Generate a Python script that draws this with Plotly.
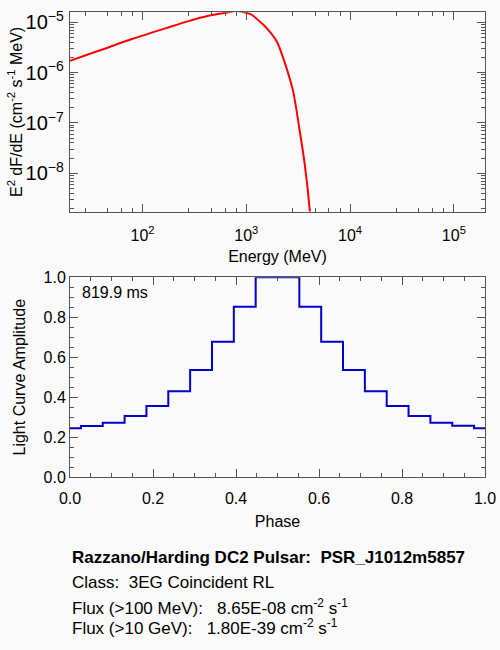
import plotly.graph_objects as go

# spectrum (MeV, E^2 dF/dE)
energy = [20, 37.7, 79, 166, 278, 432, 627, 800, 1000, 1135, 1416, 1580,
          1960, 2445, 2830, 3280, 3665, 4090, 4500]
e2dfde = [1.73e-6, 2.72e-6, 4.66e-6, 7.60e-6, 1.06e-5, 1.35e-5, 1.55e-5,
          1.68e-5, 1.55e-5, 1.40e-5, 9.5e-6, 7.6e-6,
          4.2e-6, 1.22e-6, 4.2e-7, 6.7e-8, 1.45e-8, 1.8e-9, 1.0e-10]

# light curve, 20 phase points
phase = [k / 19 for k in range(20)]
amplitude = [0.245, 0.257, 0.273, 0.307, 0.357, 0.430, 0.537, 0.678, 0.853, 1.0,
             1.0, 0.853, 0.678, 0.537, 0.430, 0.357, 0.307, 0.273, 0.258, 0.245]

energy_ticks = [1e2, 1e3, 1e4, 1e5]
energy_ticktext = ["10<sup>2</sup>", "10<sup>3</sup>", "10<sup>4</sup>", "10<sup>5</sup>"]

period_label = "819.9 ms"
info_lines = [
    "<b>Razzano/Harding DC2 Pulsar:\u00a0 PSR_J1012m5857</b>",
    "Class:\u00a0 3EG Coincident RL",
    "Flux (>100 MeV):\u00a0\u00a0 8.65E-08 cm<sup>-2</sup> s<sup>-1</sup>",
    "Flux (>10 GeV):\u00a0\u00a0 1.80E-39 cm<sup>-2</sup> s<sup>-1</sup>",
]
info_y = [557, 582, 607, 627]

W, H = 500, 650
bg = "#fafafa"
axcol = "#555555"
font = "Liberation Sans, Arial, sans-serif"


def py(px):
    return (H - px) / H


fig = go.Figure()

fig.add_trace(go.Scatter(
    x=energy, y=e2dfde, mode="lines",
    line=dict(color="rgb(255,0,0)", width=2, shape="spline", smoothing=0.8),
    xaxis="x", yaxis="y", showlegend=False,
))

fig.add_trace(go.Scatter(
    x=phase, y=amplitude, mode="lines",
    line=dict(color="rgb(0,0,204)", width=2, shape="hvh"),
    xaxis="x2", yaxis="y2", showlegend=False,
))

common = dict(
    showline=True, linecolor=axcol, linewidth=1, mirror="allticks",
    ticks="inside", tickcolor=axcol, ticklen=8, showgrid=False, zeroline=False,
    tickfont=dict(size=16, color="black"), automargin=False,
)

# odd minor-tick spacing of the original log x axis
xminor = [m * 10 ** d for d in range(1, 6) for m in (2.8, 4.6, 6.25, 8.0)]

fig.update_layout(
    width=W, height=H, autosize=False,
    margin=dict(l=0, r=0, t=0, b=0),
    paper_bgcolor=bg, plot_bgcolor=bg,
    font=dict(family=font, size=16, color="black"),
    xaxis=dict(
        common, type="log", domain=[70 / W, 485 / W],
        range=[1.301, 5.30], tickmode="array",
        tickvals=energy_ticks, ticktext=energy_ticktext,
        ticklabelstandoff=9,
        minor=dict(tickvals=xminor, ticks="inside", ticklen=4, tickcolor=axcol),
        anchor="y",
        title=dict(text="Energy (MeV)", font=dict(size=16), standoff=8),
    ),
    yaxis=dict(
        common, type="log", domain=[py(211.5), py(12.3)],
        range=[-8.76, -4.80], dtick=1, exponentformat="power",
        ticklabelstandoff=2,
        minor=dict(dtick="D1", ticks="inside", ticklen=4, tickcolor=axcol),
        anchor="x",
    ),
    xaxis2=dict(
        common, domain=[70 / W, 485 / W], range=[0, 1], dtick=0.2,
        tickformat=".1f", ticklabelstandoff=6,
        minor=dict(dtick=0.05, ticks="inside", ticklen=4, tickcolor=axcol),
        anchor="y2",
        title=dict(text="Phase", font=dict(size=16), standoff=10),
    ),
    yaxis2=dict(
        common, domain=[py(477.3), py(277.3)], range=[0, 1.0], dtick=0.2,
        tickformat=".1f",
        minor=dict(dtick=0.05, ticks="inside", ticklen=4, tickcolor=axcol),
        anchor="x2",
    ),
)

# y-axis titles placed by hand
fig.add_annotation(
    text="E<sup>2</sup> dF/dE (cm<sup>-2</sup> s<sup>-1</sup> MeV)",
    xref="paper", yref="paper", x=15 / W, y=py(112), textangle=-90,
    xanchor="center", yanchor="middle", showarrow=False, font=dict(size=16),
)
fig.add_annotation(
    text="Light Curve Amplitude",
    xref="paper", yref="paper", x=18.5 / W, y=py(377), textangle=-90,
    xanchor="center", yanchor="middle", showarrow=False, font=dict(size=16),
)

fig.add_annotation(
    text=period_label, xref="paper", yref="paper",
    x=80 / W, y=py(292.7), xanchor="left", yanchor="middle",
    showarrow=False, font=dict(size=16),
)

for line, yy in zip(info_lines, info_y):
    fig.add_annotation(
        text=line, xref="paper", yref="paper",
        x=70 / W, y=py(yy), xanchor="left", yanchor="middle",
        showarrow=False, font=dict(size=17),
    )

# drop the browser's default body margin so the figure sits at (0, 0)
fig.write_html("out.html", config={"displayModeBar": False},
               post_script="document.body.style.margin='0';")
